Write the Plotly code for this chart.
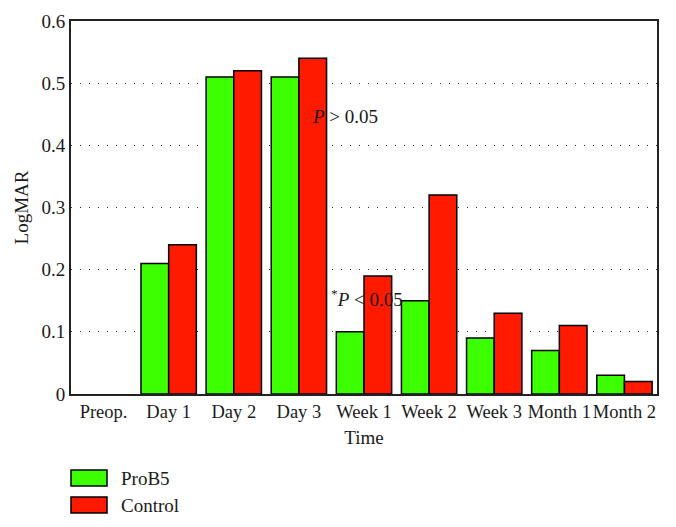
import plotly.graph_objects as go

categories = ["Preop.", "Day 1", "Day 2", "Day 3", "Week 1", "Week 2", "Week 3", "Month 1", "Month 2"]
prob5 = [0, 0.21, 0.51, 0.51, 0.10, 0.15, 0.09, 0.07, 0.03]
control = [0, 0.24, 0.52, 0.54, 0.19, 0.32, 0.13, 0.11, 0.02]
y_ticks = [0, 0.1, 0.2, 0.3, 0.4, 0.5, 0.6]
y_tick_labels = ["0", "0.1", "0.2", "0.3", "0.4", "0.5", "0.6"]

GREEN = "#3CFF00"
RED = "#FF1A00"
FONT = "Liberation Serif, serif"
TXT = "#1a1a1a"
FS = 19

# The page body has an 8px margin; the figure is sized to fit inside it.
W, H = 660, 511
ML, MR, MT, MB = 63, 11, 13, 125
PLOT_H = H - MT - MB          # 373 px
PLOT_W = W - ML - MR          # 586 px


def outline(vals):
    return [1.5 if v > 0 else 0 for v in vals]


fig = go.Figure()
fig.add_trace(go.Bar(x=categories, y=prob5, name="ProB5",
                     marker=dict(color=GREEN, line=dict(color="black", width=outline(prob5)))))
fig.add_trace(go.Bar(x=categories, y=control, name="Control",
                     marker=dict(color=RED, line=dict(color="black", width=outline(control)))))

fig.update_layout(
    width=W, height=H,
    margin=dict(l=ML, r=MR, t=MT, b=MB),
    plot_bgcolor="white", paper_bgcolor="white",
    barmode="group", bargap=0.15, bargroupgap=0,
    showlegend=False,
    font=dict(family=FONT, size=FS, color=TXT),
)
fig.update_xaxes(
    showline=True, linecolor="#222", linewidth=2, mirror=True,
    ticks="", showgrid=False, automargin=False, tickangle=0,
    title=dict(text="Time", font=dict(family=FONT, size=FS), standoff=9),
    tickfont=dict(family=FONT, size=18.5),
)
fig.update_yaxes(
    range=[0, 0.6], tickvals=y_ticks, ticktext=y_tick_labels,
    showline=True, linecolor="#222", linewidth=2, mirror=True,
    ticks="", showgrid=True, gridcolor="#333", gridwidth=1, griddash="1px,8px",
    zeroline=False, automargin=False,
    title=dict(text="LogMAR", font=dict(family=FONT, size=FS), standoff=8),
    tickfont=dict(family=FONT, size=FS),
)

fig.add_annotation(x=3.17, y=0.447, xref="x", yref="y", text="<i>P</i> &gt; 0.05",
                   showarrow=False, xanchor="left", yanchor="middle",
                   font=dict(family=FONT, size=FS, color=TXT))
fig.add_annotation(x=3.47, y=0.155, xref="x", yref="y", text="<sup>*</sup><i>P</i> &lt; 0.05",
                   showarrow=False, xanchor="left", yanchor="middle",
                   font=dict(family=FONT, size=FS, color=TXT))

# Legend drawn as boxes + labels below the plot (pixel offsets from plot bottom-left)
legend_items = [("ProB5", GREEN), ("Control", RED)]
for i, (label, color) in enumerate(legend_items):
    top = 76 + i * 27      # px below plot bottom
    bot = top + 16
    fig.add_shape(type="rect", xref="paper", yref="paper",
                  x0=0, x1=36 / PLOT_W, y0=-bot / PLOT_H, y1=-top / PLOT_H,
                  line=dict(color="black", width=1.5), fillcolor=color)
    fig.add_annotation(x=48 / PLOT_W, y=-(top + bot) / 2 / PLOT_H, xref="paper", yref="paper",
                       text=label, showarrow=False, xanchor="left", yanchor="middle",
                       font=dict(family=FONT, size=FS, color=TXT))

fig.write_html("out.html")
